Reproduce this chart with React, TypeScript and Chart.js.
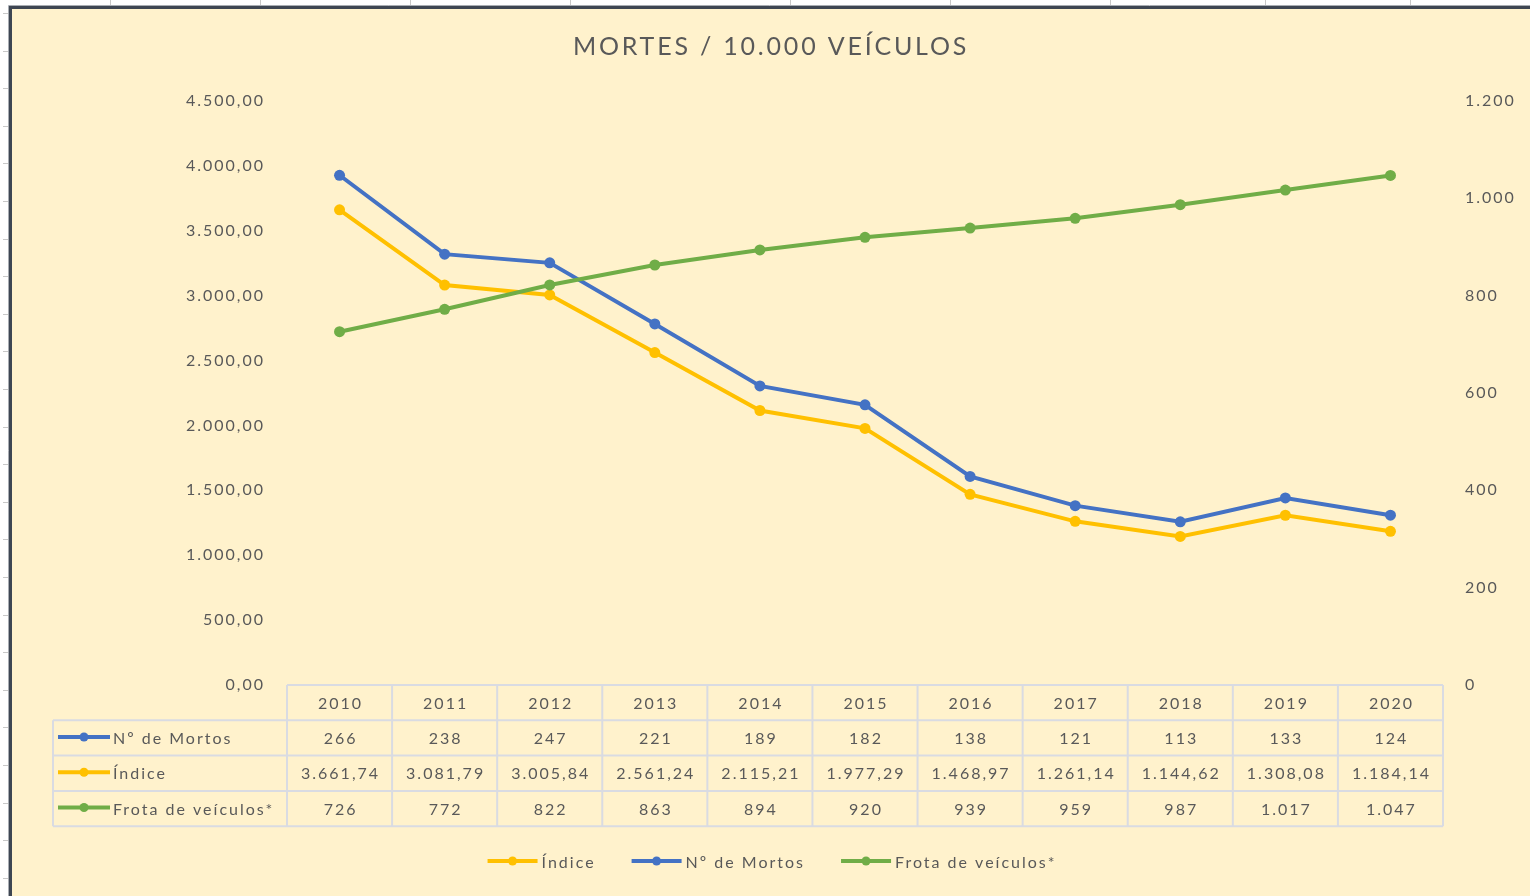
import { useEffect, useRef } from 'react';
import { Chart, registerables } from 'chart.js';

Chart.register(...registerables);

const TITLE = 'MORTES / 10.000 VEÍCULOS';
const years = ['2010', '2011', '2012', '2013', '2014', '2015', '2016', '2017', '2018', '2019', '2020'];
const mortos = [266, 238, 247, 221, 189, 182, 138, 121, 113, 133, 124];
const indice = [3661.74, 3081.79, 3005.84, 2561.24, 2115.21, 1977.29, 1468.97, 1261.14, 1144.62, 1308.08, 1184.14];
const frota = [726, 772, 822, 863, 894, 920, 939, 959, 987, 1017, 1047];
const leftAxis = { min: 0, max: 4500, step: 500, decimals: 2 };
const rightAxis = { min: 0, max: 1200, step: 200, decimals: 0 };

const BLUE = '#4472C4';
const ORANGE = '#FFC000';
const GREEN = '#70AD47';
const TEXT = '#595959';
const BG = '#FFF2CC';
const GRIDLINE = '#D9DBE2';
const FONT = 'Lato';

function fmt(n: number, d: number): string {
  const fixed = Number(n).toFixed(d);
  const [i, f] = fixed.split('.');
  const withSep = i.replace(/\B(?=(\d{3})+(?!\d))/g, '.');
  return f ? withSep + ',' + f : withSep;
}

const topTicks = [110, 260, 410, 570, 790, 950, 1110, 1265, 1410];

const deco = {
  id: 'deco',
  beforeDraw(chart: any) {
    const ctx = chart.ctx as CanvasRenderingContext2D;
    const W = chart.width;
    const H = chart.height;
    ctx.save();
    ctx.fillStyle = '#FFFFFF';
    ctx.fillRect(0, 0, W, H);
    ctx.fillStyle = BG;
    ctx.fillRect(11, 8, W - 11, H - 8);
    ctx.strokeStyle = '#C8C8C8';
    ctx.lineWidth = 1;
    topTicks.forEach((x) => {
      ctx.beginPath();
      ctx.moveTo(x + 0.5, 0);
      ctx.lineTo(x + 0.5, 5);
      ctx.stroke();
    });
    for (let k = 0; k <= 23; k++) {
      const y = Math.round(13 + 37.6 * k) + 0.5;
      ctx.beginPath();
      ctx.moveTo(3, y);
      ctx.lineTo(8, y);
      ctx.stroke();
    }
    ctx.strokeStyle = '#A9ADB3';
    ctx.lineWidth = 1;
    ctx.beginPath();
    ctx.moveTo(8.5, H);
    ctx.lineTo(8.5, 5.5);
    ctx.lineTo(W, 5.5);
    ctx.stroke();
    ctx.strokeStyle = '#3E4652';
    ctx.lineWidth = 3;
    ctx.beginPath();
    ctx.moveTo(10.5, H);
    ctx.lineTo(10.5, 7.5);
    ctx.lineTo(W, 7.5);
    ctx.stroke();
    ctx.font = `25px ${FONT}`;
    (ctx as any).letterSpacing = '2.8px';
    ctx.fillStyle = TEXT;
    ctx.textAlign = 'center';
    ctx.textBaseline = 'middle';
    ctx.fillText(TITLE, 771, 47);
    ctx.restore();
    (ctx as any).letterSpacing = '2px';
  },
  afterDraw(chart: any) {
    const ctx = chart.ctx as CanvasRenderingContext2D;
    const xs = chart.scales.x;
    const area = chart.chartArea;
    const ds = chart.data.datasets;
    const colW = xs.getPixelForValue(1) - xs.getPixelForValue(0);
    const left = area.left;
    const right = area.right;
    const top = area.bottom;
    const rowH = 35.3;
    const labelLeft = 53;

    ctx.save();
    (ctx as any).letterSpacing = '2px';
    ctx.strokeStyle = GRIDLINE;
    ctx.lineWidth = 2;
    ctx.beginPath();
    ctx.moveTo(left, top);
    ctx.lineTo(right, top);
    for (let r = 1; r <= 4; r++) {
      ctx.moveTo(labelLeft, top + r * rowH);
      ctx.lineTo(right, top + r * rowH);
    }
    for (let i = 0; i <= years.length; i++) {
      const x = left + i * colW;
      ctx.moveTo(x, top);
      ctx.lineTo(x, top + 4 * rowH);
    }
    ctx.moveTo(labelLeft, top + rowH);
    ctx.lineTo(labelLeft, top + 4 * rowH);
    ctx.stroke();

    ctx.font = `16px ${FONT}`;
    ctx.fillStyle = TEXT;
    ctx.textBaseline = 'middle';
    ctx.textAlign = 'center';
    years.forEach((y, i) => {
      ctx.fillText(y, xs.getPixelForValue(i) + 1, top + rowH / 2 + 1);
    });

    const rows = [
      { d: ds[1], vals: mortos.map((v) => fmt(v, 0)) },
      { d: ds[0], vals: indice.map((v) => fmt(v, 2)) },
      { d: ds[2], vals: frota.map((v) => fmt(v, 0)) },
    ];
    rows.forEach((row, r) => {
      const cy = top + (r + 1) * rowH + rowH / 2 + 1;
      ctx.textAlign = 'center';
      ctx.fillStyle = TEXT;
      row.vals.forEach((t, i) => ctx.fillText(t, xs.getPixelForValue(i) + 1, cy));
      ctx.strokeStyle = row.d.borderColor;
      ctx.lineWidth = 4;
      ctx.beginPath();
      ctx.moveTo(58, cy - 2);
      ctx.lineTo(110, cy - 2);
      ctx.stroke();
      ctx.fillStyle = row.d.borderColor;
      ctx.beginPath();
      ctx.arc(84, cy - 2, 4.5, 0, Math.PI * 2);
      ctx.fill();
      ctx.fillStyle = TEXT;
      ctx.textAlign = 'left';
      ctx.fillText(row.d.label, 113, cy);
    });

    const order = [ds[0], ds[1], ds[2]];
    const keyLen = 50;
    const keyGap = 4;
    const itemGap = 36;
    const widths = order.map((d: any) => ctx.measureText(d.label).width);
    const total = widths.reduce((a: number, b: number) => a + b, 0) + order.length * (keyLen + keyGap) + itemGap * (order.length - 1);
    let x = 772 - total / 2;
    const ly = 863;
    order.forEach((d: any, i: number) => {
      ctx.strokeStyle = d.borderColor;
      ctx.lineWidth = 4;
      ctx.beginPath();
      ctx.moveTo(x, ly - 2);
      ctx.lineTo(x + keyLen, ly - 2);
      ctx.stroke();
      ctx.fillStyle = d.borderColor;
      ctx.beginPath();
      ctx.arc(x + keyLen / 2, ly - 2, 4.5, 0, Math.PI * 2);
      ctx.fill();
      ctx.fillStyle = TEXT;
      ctx.textAlign = 'left';
      ctx.fillText(d.label, x + keyLen + keyGap, ly);
      x += keyLen + keyGap + widths[i] + itemGap;
    });
    ctx.restore();
  },
};

export default function App() {
  const ref = useRef<HTMLCanvasElement | null>(null);
  useEffect(() => {
    document.body.style.margin = '0';
    const canvas = ref.current;
    if (!canvas) return;
    const tickFont = { family: FONT, size: 16 };
    const chart = new Chart(canvas, {
      type: 'line',
      data: {
        labels: years,
        datasets: [
          { label: 'Índice', data: indice, borderColor: ORANGE, backgroundColor: ORANGE, pointBackgroundColor: ORANGE, pointBorderColor: ORANGE, yAxisID: 'y', stack: 'mortes' },
          { label: 'Nº de Mortos', data: mortos, borderColor: BLUE, backgroundColor: BLUE, pointBackgroundColor: BLUE, pointBorderColor: BLUE, yAxisID: 'y', stack: 'mortes' },
          { label: 'Frota de veículos*', data: frota, borderColor: GREEN, backgroundColor: GREEN, pointBackgroundColor: GREEN, pointBorderColor: GREEN, yAxisID: 'y1', order: -1 },
        ],
      },
      options: {
        animation: false,
        responsive: false,
        events: [],
        layout: { padding: { top: 101, bottom: 211, left: 0, right: 0 } },
        elements: {
          line: { borderWidth: 4, tension: 0, fill: false },
          point: { radius: 5.5, borderWidth: 0, hoverRadius: 5.5 },
        },
        scales: {
          x: { type: 'category', display: false, offset: true },
          y: {
            position: 'left',
            stacked: true,
            min: leftAxis.min,
            max: leftAxis.max,
            ticks: { stepSize: leftAxis.step, callback: (v: any) => fmt(v, leftAxis.decimals), color: TEXT, font: tickFont, padding: 22 },
            grid: { display: false, drawTicks: false },
            border: { display: false },
            afterFit: (s: any) => { s.width = 287; },
          },
          y1: {
            position: 'right',
            min: rightAxis.min,
            max: rightAxis.max,
            ticks: { stepSize: rightAxis.step, callback: (v: any) => fmt(v, rightAxis.decimals), color: TEXT, font: tickFont, padding: 22 },
            grid: { display: false, drawTicks: false },
            border: { display: false },
            afterFit: (s: any) => { s.width = 87; },
          },
        },
        plugins: {
          legend: { display: false },
          title: { display: false },
          tooltip: { enabled: false },
        },
      },
      plugins: [deco],
    } as any);
    return () => chart.destroy();
  }, []);
  return (
    <div style={{ position: 'absolute', left: 0, top: 0, width: 1530, height: 896 }}>
      <canvas ref={ref} width={1530} height={896} style={{ display: 'block', width: 1530, height: 896 }} />
    </div>
  );
}
